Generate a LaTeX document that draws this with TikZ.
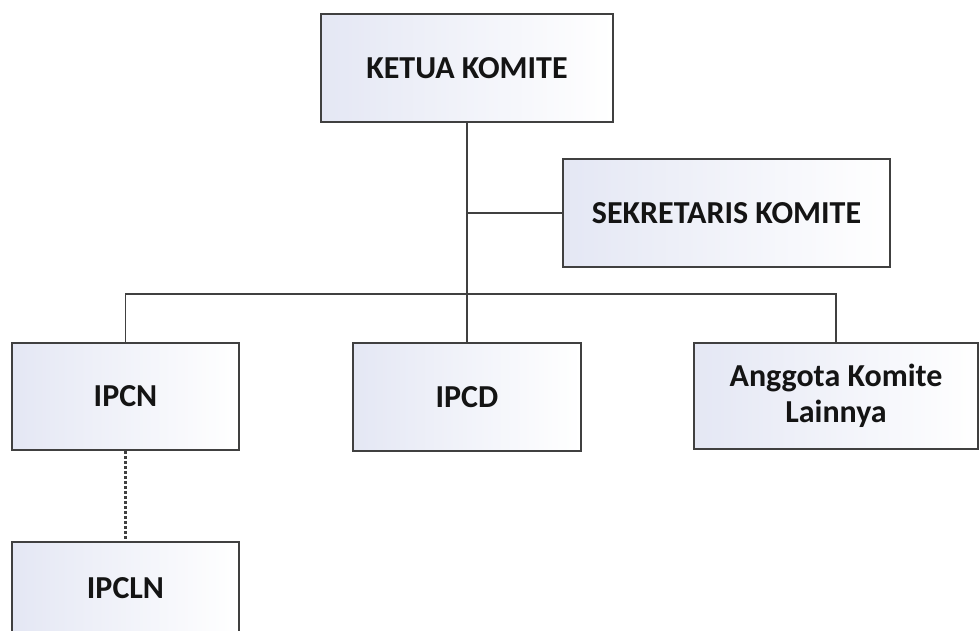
\documentclass[tikz,border=0pt]{standalone}
\usepackage{fontspec}
\setmainfont{Carlito}
\usepackage{tikz}
\definecolor{boxline}{RGB}{64,64,64}
\definecolor{boxtint}{RGB}{228,231,244}
\definecolor{boxtext}{RGB}{20,20,20}

\begin{document}
\begin{tikzpicture}[x=1pt,y=-1pt]
\tikzstyle{unit}=[draw=boxline, line width=1.8pt, left color=boxtint, right color=white,
  inner sep=0pt, align=center, text=boxtext,
  font=\fontsize{32}{36}\selectfont\bfseries]
\tikzstyle{link}=[draw=boxline, line width=1.8pt]
\useasboundingbox (0,0) rectangle (980,630);
\clip (0,0) rectangle (980,630);
\node [unit, minimum width=292pt, minimum height=108pt] (ketua) at (467,68) {KETUA KOMITE};
\node [unit, minimum width=327pt, minimum height=108pt] (sekretaris) at (726.5,213) {SEKRETARIS KOMITE};
\node [unit, minimum width=227pt, minimum height=107pt] (ipcn) at (125.5,396.5) {IPCN};
\node [unit, minimum width=228pt, minimum height=108pt] (ipcd) at (467,397) {IPCD};
\node [unit, minimum width=284pt, minimum height=106pt] (anggota) at (836,396) {Anggota Komite\\Lainnya};
\node [unit, minimum width=227pt, minimum height=92pt] (ipcln) at (125.5,588) {IPCLN};
\coordinate (bus) at (467,294);
\draw [link] (ketua.south) -- (ipcd.north);
\draw [link] (ketua.south |- sekretaris.west) -- (sekretaris.west);
\draw [link] (ipcn.north) |- (bus) -| (anggota.north);
\draw [link, line width=2.2pt, dash pattern=on 3pt off 2pt] (ipcn.south) -- (ipcln.north);
\end{tikzpicture}
\end{document}
